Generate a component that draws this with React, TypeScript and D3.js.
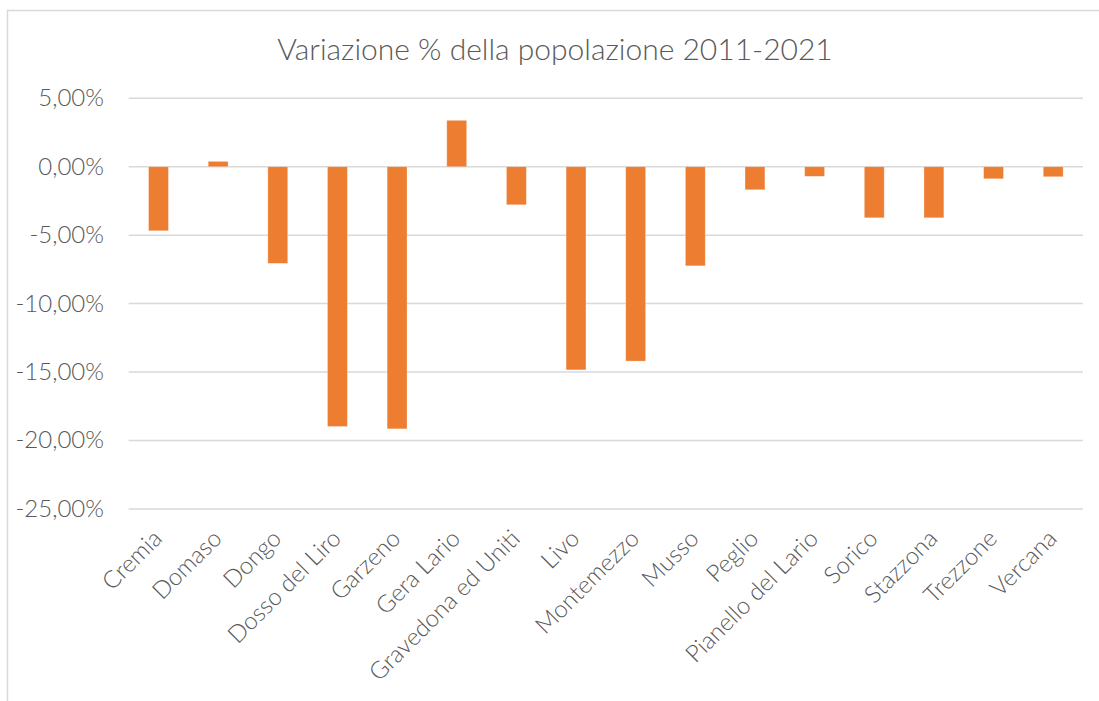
import React from 'react';
import * as d3 from 'd3';

// Comuni e variazione % della popolazione 2011-2021
const comuni = [
  'Cremia', 'Domaso', 'Dongo', 'Dosso del Liro', 'Garzeno', 'Gera Lario',
  'Gravedona ed Uniti', 'Livo', 'Montemezzo', 'Musso', 'Peglio',
  'Pianello del Lario', 'Sorico', 'Stazzona', 'Trezzone', 'Vercana',
];
const variazioni = [
  -4.68, 0.39, -7.06, -18.98, -19.15, 3.39,
  -2.78, -14.84, -14.2, -7.24, -1.68,
  -0.7, -3.73, -3.73, -0.88, -0.73,
];
const yTicks = [5, 0, -5, -10, -15, -20, -25];
const titolo = 'Variazione % della popolazione 2011-2021';

const W = 1099;
const H = 701;
const FONT = 'Lato, "Open Sans", sans-serif';
const GRIGIO = '#595959';

const fmt = (v: number) => v.toFixed(2).replace('.', ',') + '%';

export default function App() {
  const x = d3.scaleBand<string>()
    .domain(comuni)
    .range([128.7, 1083])
    .paddingInner(0.667)
    .paddingOuter(0.333);

  const y = d3.scaleLinear().domain([-25, 5]).range([508.9, 98.3]);

  return (
    <div style={{ position: 'fixed', left: 0, top: 0, width: W, height: H, background: '#fff' }}>
      <svg width={W} height={H} style={{ display: 'block' }}>
        <rect x={7.5} y={10.5} width={1200} height={800} fill="#fff" stroke="#d9d9d9" strokeWidth={1.5} />

        <text x={555} y={60} textAnchor="middle" fontFamily={FONT} fontWeight={300}
          fontSize={30} fill={GRIGIO}>{titolo}</text>

        {yTicks.map(t => (
          <g key={t}>
            <line x1={128.7} x2={1083} y1={y(t)} y2={y(t)} stroke="#d9d9d9" strokeWidth={1.5} />
            <text x={104} y={y(t) + 8} textAnchor="end" fontFamily={FONT} fontWeight={300}
              fontSize={24} fill={GRIGIO}>{fmt(t)}</text>
          </g>
        ))}

        {comuni.map((c, i) => {
          const v = variazioni[i];
          return (
            <rect key={c} x={x(c)} width={x.bandwidth()}
              y={y(Math.max(0, v))} height={Math.abs(y(v) - y(0))}
              fill="#ED7D31" stroke="#fff" strokeOpacity={0.35} strokeWidth={0.75} />
          );
        })}

        {comuni.map(c => {
          const cx = (x(c) ?? 0) + x.bandwidth() / 2 + 5;
          const cy = 540;
          return (
            <text key={c} x={cx} y={cy} textAnchor="end" fontFamily={FONT} fontWeight={300}
              fontSize={24} fill={GRIGIO} transform={`rotate(-45 ${cx} ${cy})`}>{c}</text>
          );
        })}
      </svg>
    </div>
  );
}
